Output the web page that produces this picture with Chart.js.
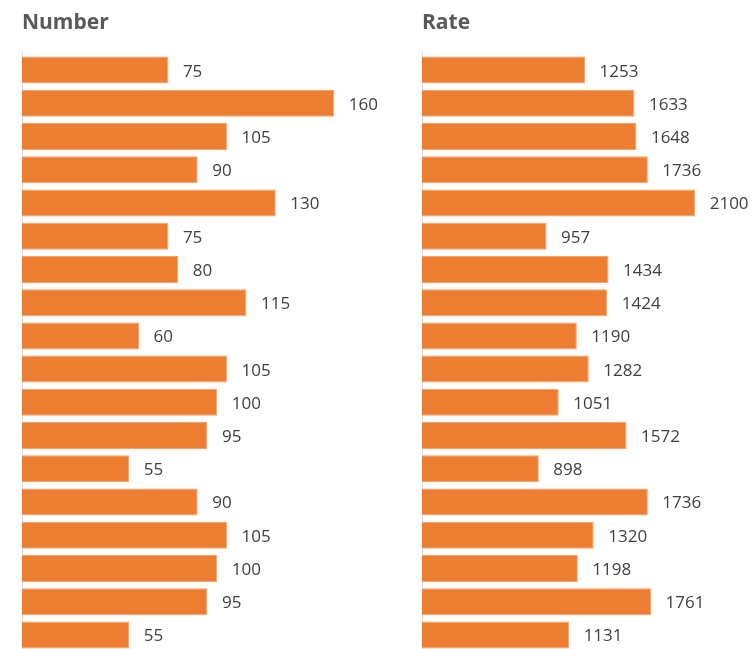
<!DOCTYPE html>
<html>
<head>
<meta charset="utf-8">
<script src="https://cdn.jsdelivr.net/npm/chart.js@4"></script>
<style>
  html, body { margin: 0; padding: 0; background: #fff; overflow: hidden; width: 754px; height: 649px; }
  canvas { position: absolute; top: 0; }
  #c1 { left: 0; }
  #c2 { left: 400px; }
</style>
</head>
<body>
<canvas id="c1" width="400" height="660"></canvas>
<canvas id="c2" width="354" height="660"></canvas>
<script>
const categories = ['1','2','3','4','5','6','7','8','9','10','11','12','13','14','15','16','17','18'];
const numberValues = [75,160,105,90,130,75,80,115,60,105,100,95,55,90,105,100,95,55];
const rateValues = [1253,1633,1648,1736,2100,957,1434,1424,1190,1282,1051,1572,898,1736,1320,1198,1761,1131];
const titles = ['Number', 'Rate'];
const axisMax = [180, 2400];

const ORANGE = '#ED7D31';
const TEXT = '#595959';

const labelPlugin = {
  id: 'barLabels',
  afterDatasetsDraw(chart, args, opts) {
    const ctx = chart.ctx;
    ctx.save();
    // title
    ctx.font = 'bold 21px "Open Sans"';
    ctx.fillStyle = TEXT;
    ctx.textAlign = 'left';
    ctx.textBaseline = 'alphabetic';
    ctx.fillText(opts.title, chart.chartArea.left, 28.5);
    // value labels
    ctx.font = '17px "Open Sans"';
    ctx.fillStyle = '#404040';
    const meta = chart.getDatasetMeta(0);
    const data = chart.data.datasets[0].data;
    meta.data.forEach((bar, i) => {
      ctx.fillText(String(data[i]), bar.x + 14.5, bar.y + 6.4);
    });
    ctx.restore();
  }
};

function makeChart(id, values, max, title, padRight) {
  return new Chart(document.getElementById(id), {
    type: 'bar',
    data: {
      labels: categories,
      datasets: [{
        data: values,
        backgroundColor: ORANGE,
        borderColor: '#F3A26C',
        borderWidth: 1,
        barPercentage: 0.813,
        categoryPercentage: 1
      }]
    },
    options: {
      indexAxis: 'y',
      responsive: false,
      animation: false,
      devicePixelRatio: 1,
      layout: { padding: { top: 53.5, bottom: 8.5, left: 22, right: padRight } },
      plugins: {
        legend: { display: false },
        tooltip: { enabled: false },
        barLabels: { title: title }
      },
      scales: {
        x: { display: false, min: 0, max: max },
        y: {
          display: true,
          grid: { display: false },
          ticks: { display: false },
          border: { display: true, color: '#D9D9D9', width: 1 },
          afterFit(scale) { scale.width = 0; }
        }
      }
    },
    plugins: [labelPlugin]
  });
}

// Number: 22px zero, ~1.952 px/unit ; Rate: 422px zero, ~0.1301 px/unit
makeChart('c1', numberValues, axisMax[0], titles[0], 400 - 22 - axisMax[0] * 1.952);
makeChart('c2', rateValues, axisMax[1], titles[1], 354 - 22 - axisMax[1] * 0.1301);
</script>
</body>
</html>
